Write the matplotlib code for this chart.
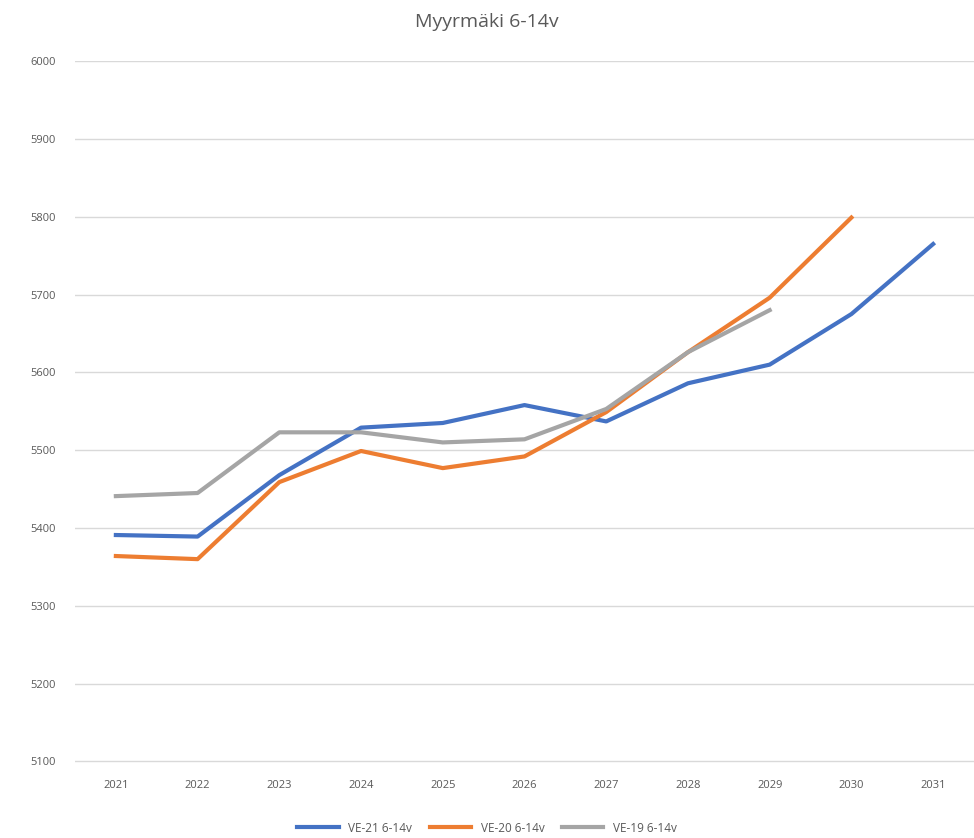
import matplotlib.pyplot as plt

# Data
years = ["2021", "2022", "2023", "2024", "2025", "2026",
         "2027", "2028", "2029", "2030", "2031"]
ve21 = [5391, 5389, 5468, 5529, 5535, 5558, 5537, 5586, 5610, 5675, 5765]
ve20 = [5364, 5360, 5459, 5499, 5477, 5492, 5549, 5626, 5696, 5799]
ve19 = [5441, 5445, 5523, 5523, 5510, 5514, 5553, 5626, 5680]
yticks = list(range(5100, 6001, 100))

plt.rcParams["font.family"] = ["Open Sans", "DejaVu Sans"]

fig = plt.figure(figsize=(9.74, 8.38), dpi=100)
ax = fig.add_axes([0.077, 0.0895, 0.923, 0.8375])

x = list(range(len(years)))
ax.plot(x[:len(ve21)], ve21, color="#4472C4", lw=3, label="VE-21 6-14v", zorder=3)
ax.plot(x[:len(ve20)], ve20, color="#ED7D31", lw=3, label="VE-20 6-14v", zorder=3)
ax.plot(x[:len(ve19)], ve19, color="#A5A5A5", lw=3, label="VE-19 6-14v", zorder=3)

ax.set_xlim(-0.5, len(years) - 0.5)
ax.set_ylim(5098, 6000)
ax.set_xticks(x)
ax.set_xticklabels(years)
ax.set_yticks(yticks)
ax.grid(axis="y", color="#D9D9D9", lw=1)
ax.set_axisbelow(True)
for s in ax.spines.values():
    s.set_visible(False)
ax.tick_params(length=0, colors="#595959", labelsize=8)
ax.tick_params(axis="x", pad=12)
ax.tick_params(axis="y", pad=14)

fig.text(0.5, 1 - 22 / 838, "Myyrmäki 6-14v", ha="center", va="center",
         fontsize=14, color="#595959")

fig.legend(loc="center", bbox_to_anchor=(0.5, 1 - 828 / 838), ncol=3,
           frameon=False, fontsize=8.5, labelcolor="#595959",
           handlelength=3.5, columnspacing=1.5)

fig.savefig("out.png", dpi=100)
